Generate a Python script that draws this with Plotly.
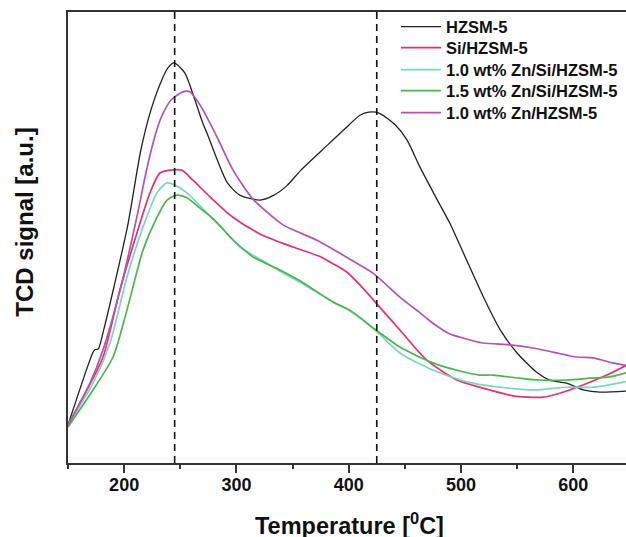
import plotly.graph_objects as go

# ---------------- data ----------------
names = ["HZSM-5", "Si/HZSM-5", "1.0 wt% Zn/Si/HZSM-5", "1.5 wt% Zn/Si/HZSM-5", "1.0 wt% Zn/HZSM-5"]

temp_hzsm5 = [150, 172, 174, 177, 181.8, 190.7, 203.3, 214.9, 223.9, 232.8, 239, 244.4, 254, 261, 270, 274, 283, 292,
              303, 321, 333.5, 345, 357.7, 382, 400, 410, 418, 427, 441.4, 452, 463.5, 479, 490, 505, 520, 535,
              550, 568, 579, 594, 609, 624, 650]
sig_hzsm5 = [8.4, 24.4, 25.1, 25.3, 29.5, 38.8, 52.8, 69.4, 78.3, 84.5, 87.6, 88.7, 86.5, 82.0, 75.4, 73.0, 67.2,
             62.1, 59.4, 58.3, 59.4, 61.5, 65.0, 70.7, 74.9, 77.1, 77.8, 77.6, 75.0, 71.6, 65.6, 58.3, 53.2,
             45.0, 36.8, 29.5, 24.4, 20.0, 18.4, 17.7, 16.2, 15.7, 16.0]

temp_si = [150, 166.9, 181.2, 196.3, 211.4, 223.0, 231.9, 243.5, 251.5, 261.3, 276.5, 296.9, 321.0, 350.4, 374.4,
           386.0, 398.5, 410.0, 424.3, 445.6, 469.7, 496.4, 519.6, 546.3, 573.0, 590.8, 608.6, 630.0, 650]
sig_si = [8.4, 16.2, 23.5, 38.4, 51.0, 59.9, 64.3, 65.0, 64.9, 62.7, 59.0, 54.5, 50.8, 47.9, 45.8, 44.2, 42.3, 39.5,
          35.5, 29.5, 22.8, 18.4, 16.6, 14.9, 14.6, 15.7, 17.3, 19.5, 22.0]

temp_zn10si = [150, 172.3, 187.4, 202.5, 216.8, 229.3, 238.2, 245.3, 256.0, 267.5, 282.7, 303.2, 327.2, 341.5, 356.6,
               386.0, 401.1, 424.3, 445.6, 475.0, 505.3, 534.7, 564.1, 594.4, 617.5, 650]
sig_zn10si = [8.4, 17.7, 26.6, 41.2, 52.3, 59.9, 62.1, 61.6, 59.9, 57.0, 53.2, 47.9, 44.3, 42.1, 40.1, 35.7, 33.7,
              29.3, 24.4, 20.6, 18.0, 16.8, 16.2, 16.8, 16.8, 18.2]

temp_zn15si = [150, 172.3, 190.1, 202.5, 216.8, 229.3, 238.2, 247.1, 256.0, 267.5, 280.0, 297.0, 314.7, 338.8, 356.6,
               386.0, 401.1, 424.3, 445.6, 475.0, 499.1, 516.9, 528.5, 552.5, 570.3, 594.4, 614.8, 632.6, 650]
sig_zn15si = [8.0, 16.2, 23.5, 33.9, 47.2, 54.5, 58.3, 59.4, 58.8, 56.5, 54.0, 49.5, 45.7, 42.8, 40.4, 35.7, 33.9,
              29.5, 25.7, 22.2, 20.4, 19.5, 19.5, 18.8, 18.4, 18.4, 18.8, 19.1, 20.2]

temp_zn10 = [150, 169.6, 181.2, 197.2, 211.3, 219.4, 226.5, 232.8, 241.8, 252.4, 258.6, 261.3, 270.2, 282.7, 296.9,
             314.7, 332.6, 341.5, 350.4, 371.7, 386.0, 401.1, 421.6, 445.6, 463.5, 475.0, 490.2, 499.1, 519.6,
             543.6, 564.1, 581.9, 603.3, 617.5, 635.3, 650]
sig_zn10 = [8.4, 17.7, 25.1, 39.2, 54.5, 64.3, 71.6, 76.5, 80.5, 82.3, 82.3, 81.6, 78.3, 72.3, 65.0, 58.5, 54.5,
            52.8, 51.7, 49.4, 47.4, 45.2, 42.1, 36.8, 33.3, 31.0, 28.6, 27.9, 26.6, 26.2, 25.5, 24.6, 23.5, 23.3,
            22.2, 21.5]

peak_temps = [245, 425]
x_ticks = [200, 300, 400, 500, 600]
x_minor_ticks = [150, 250, 350, 450, 550]

# ---------------- styles ----------------
colors = ["#222222", "#e8336a", "#7dd4bf", "#4cb54f", "#b553b5"]
widths = [1.3, 1.7, 1.7, 1.7, 1.7]
series = [(temp_hzsm5, sig_hzsm5), (temp_si, sig_si), (temp_zn10si, sig_zn10si),
          (temp_zn15si, sig_zn15si), (temp_zn10, sig_zn10)]
legend_rows = [0.9668, 0.9202, 0.8715, 0.8249, 0.7762]   # row positions (paper fraction)

FONT = "Liberation Sans, Arial, sans-serif"
AX = "#333333"
TXT = "#111111"

fig = go.Figure()
legend_layout = {}
for i, ((t, s), name, c, w) in enumerate(zip(series, names, colors, widths)):
    key = "legend" if i == 0 else f"legend{i + 1}"
    fig.add_trace(go.Scatter(x=t, y=s, mode="lines", name=name, legend=key,
                             line=dict(color=c, width=w, shape="spline", smoothing=0.7)))
    legend_layout[key] = dict(x=0.5878, y=legend_rows[i], xanchor="left", yanchor="middle",
                              bgcolor="rgba(0,0,0,0)", borderwidth=0,
                              font=dict(size=16.5, family=FONT, weight="bold", color=TXT),
                              itemwidth=40)

for pt in peak_temps:
    fig.add_shape(type="line", x0=pt, x1=pt, xref="x", y0=0, y1=1, yref="paper",
                  line=dict(color="#111111", width=1.6, dash="7px,5px"))

fig.update_layout(
    width=626, height=537,
    margin=dict(l=68, r=0, t=12, b=74, autoexpand=False),
    paper_bgcolor="white", plot_bgcolor="white",
    font=dict(family=FONT, color=TXT),
    showlegend=True,
    xaxis=dict(range=[150, 647], showline=True, linecolor=AX, linewidth=1.6, mirror=True,
               ticks="outside", ticklen=8, tickwidth=1.5, tickcolor=AX,
               tickvals=x_ticks, automargin=False, ticklabelstandoff=-3,
               tickfont=dict(size=18, family=FONT, weight="bold", color=TXT),
               minor=dict(tickvals=x_minor_ticks, ticks="outside", ticklen=4, tickwidth=1.5, tickcolor=AX),
               showgrid=False, zeroline=False),
    yaxis=dict(range=[0, 100], showline=True, linecolor=AX, linewidth=1.6, automargin=False,
               ticks="", showticklabels=False, showgrid=False, zeroline=False),
    annotations=[
        dict(text="TCD signal [a.u.]", textangle=-90, xref="paper", yref="paper",
             x=-0.0771, y=0.535, xanchor="center", yanchor="middle", showarrow=False,
             font=dict(size=24, family=FONT, weight="bold", color=TXT)),
        dict(text="Temperature [<sup>0</sup>C]", xref="paper", yref="paper",
             x=0.5036, y=-0.135, xanchor="center", yanchor="middle", showarrow=False,
             font=dict(size=23.5, family=FONT, weight="bold", color=TXT)),
    ],
    **legend_layout,
)

# remove the default page margin so the 626x537 figure fills the window exactly
fig.write_html("out.html",
               config={"displayModeBar": False},
               post_script="document.body.style.margin='0';document.body.style.overflow='hidden';")
